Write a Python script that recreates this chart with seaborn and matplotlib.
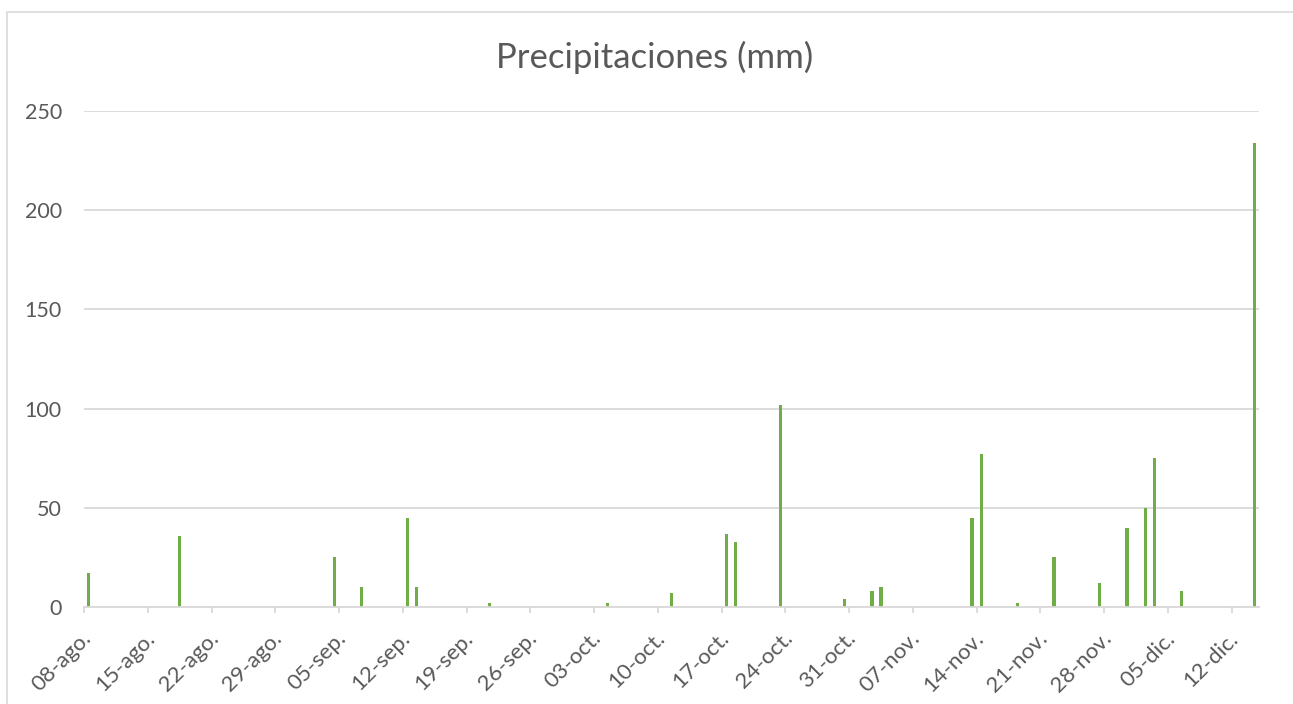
import pandas as pd
import matplotlib.pyplot as plt
import matplotlib.patches as mpatches
import matplotlib.transforms as mtrans
import seaborn as sns

# rain days and amounts (mm)
fechas = ['2021-08-08', '2021-08-18', '2021-09-04', '2021-09-07', '2021-09-12',
          '2021-09-13', '2021-09-21', '2021-10-04', '2021-10-11', '2021-10-17',
          '2021-10-18', '2021-10-23', '2021-10-30', '2021-11-02', '2021-11-03',
          '2021-11-13', '2021-11-14', '2021-11-18', '2021-11-22', '2021-11-27',
          '2021-11-30', '2021-12-02', '2021-12-03', '2021-12-06', '2021-12-14']
lluvia = [17, 36, 25, 10, 45,
          10, 2, 2, 7, 37,
          33, 102, 4, 8, 10,
          45, 77, 2, 25, 12,
          40, 50, 75, 8, 234]

meses = {8: 'ago.', 9: 'sep.', 10: 'oct.', 11: 'nov.', 12: 'dic.'}

data = pd.DataFrame({'fecha': pd.to_datetime(fechas), 'mm': lluvia})
dias = pd.date_range('2021-08-08', '2021-12-14', freq='D')
data['fecha'] = pd.Categorical(data['fecha'], categories=dias)

sns.set_style('white')
plt.rcParams['font.family'] = ['Lato', 'DejaVu Sans']

fig = plt.figure(figsize=(12.93, 7.04), dpi=100)
ax = fig.add_axes([84 / 1293, 1 - 607 / 704, 1175 / 1293, 496 / 704])

sns.barplot(data=data, x='fecha', y='mm', order=list(dias), color='#70AD47',
            saturation=1, width=0.36, linewidth=0, ax=ax)

grid_c = '#D9D9D9'
txt_c = '#595959'

ax.set_xlim(-0.5, len(dias) - 0.5)
ax.set_ylim(0, 250)
ax.set_yticks([0, 50, 100, 150, 200, 250])
ax.yaxis.grid(True, color=grid_c, linewidth=1.3)
ax.set_axisbelow(True)
for s in ['top', 'right', 'left']:
    ax.spines[s].set_visible(False)
ax.spines['bottom'].set_color(grid_c)
ax.spines['bottom'].set_linewidth(1.3)

pos = list(range(0, len(dias), 7))
ax.set_xticks([p - 0.5 for p in pos])
ax.set_xticklabels([f"{dias[p].day:02d}-{meses[dias[p].month]}" for p in pos],
                   rotation=45, ha='right', va='baseline', rotation_mode='anchor')
ax.tick_params(axis='x', length=4.5, width=1.3, color=grid_c, labelsize=16,
               labelcolor=txt_c, pad=19, bottom=True)
ax.tick_params(axis='y', length=0, labelsize=15.5, labelcolor=txt_c, pad=16)
# nudge the rotated labels right so they hang under their tick
shift = mtrans.ScaledTranslation(8 / 100, 0, fig.dpi_scale_trans)
for lab in ax.get_xticklabels():
    lab.set_transform(lab.get_transform() + shift)
ax.set_xlabel('')
ax.set_ylabel('')

fig.text(655 / 1293, 1 - 68 / 704, 'Precipitaciones (mm)', ha='center',
         va='baseline', fontsize=25, color=txt_c)

# chart frame (only top/left visible in the crop)
fig.patches.append(mpatches.Rectangle((7 / 1293, -0.2), 1.2, 1.2 - 12 / 704,
                                      transform=fig.transFigure, fill=False,
                                      edgecolor=grid_c, linewidth=1.2))

fig.savefig('out.png', dpi=100)
